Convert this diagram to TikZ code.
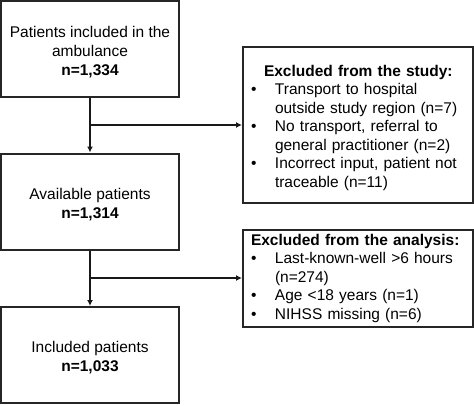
\documentclass[tikz,border=0pt]{standalone}
\usepackage{fontspec}
\setmainfont{Liberation Sans}
\usetikzlibrary{arrows.meta}
\newcommand{\topstrut}[1]{\rule{0pt}{#1}}
\tikzset{
  flowbox/.style={draw=black!85, line width=2pt, fill=white, inner sep=0pt,
    minimum width=178pt, minimum height=96pt, align=center,
    font=\fontsize{15.5}{19}\selectfont},
  exclbox/.style={draw=black!85, line width=2pt, fill=white, inner sep=0pt,
    text width=230pt, align=left,
    font=\fontsize{15.5}{18.5}\selectfont},
  conn/.style={draw=black!90, line width=1.6pt},
  arr/.style={conn, -{Latex[length=6pt,width=6pt]}}
}
\begin{document}
\begin{tikzpicture}[x=1pt,y=-1pt]
\useasboundingbox (0,0) rectangle (474,405);
\node[flowbox] (b1) at (90,49) {\topstrut{17pt}Patients included in the\\ambulance\\\textbf{n=1,334}};
\node[flowbox] (b2) at (90,201.5) {\topstrut{17pt}Available patients\\\textbf{n=1,314}};
\node[flowbox] (b3) at (90,355) {\topstrut{17pt}Included patients\\\textbf{n=1,033}};
\node[exclbox, minimum height=156pt] (e1) at (358,125) {%
  \begin{tabular}{@{}p{32pt}@{}l@{}}
  \multicolumn{2}{@{}l@{}}{\topstrut{19pt}\hspace{21pt}\textbf{Excluded from the study:}}\\
  \hspace{8pt}\textbullet & Transport to hospital\\
   & outside study region (n=7)\\
  \hspace{8pt}\textbullet & No transport, referral to\\
   & general practitioner (n=2)\\
  \hspace{8pt}\textbullet & Incorrect input, patient not\\
   & traceable (n=11)
  \end{tabular}};
\node[exclbox, minimum height=97pt] (e2) at (358,278.5) {%
  \begin{tabular}{@{}p{32pt}@{}l@{}}
  \multicolumn{2}{@{}l@{}}{\hspace{8pt}\textbf{Excluded from the analysis:}}\\
  \hspace{8pt}\textbullet & Last-known-well {>}6 hours\\
   & (n=274)\\
  \hspace{8pt}\textbullet & Age {<}18 years (n=1)\\
  \hspace{8pt}\textbullet & NIHSS missing (n=6)
  \end{tabular}};
\coordinate (j1) at (90,125);
\coordinate (j2) at (90,278);
\draw[arr] (b1.south) -- (b2.north);
\draw[arr] (b2.south) -- (b3.north);
\draw[arr] (j1) -- (j1 -| e1.west);
\draw[arr] (j2) -- (j2 -| e2.west);
\end{tikzpicture}
\end{document}
